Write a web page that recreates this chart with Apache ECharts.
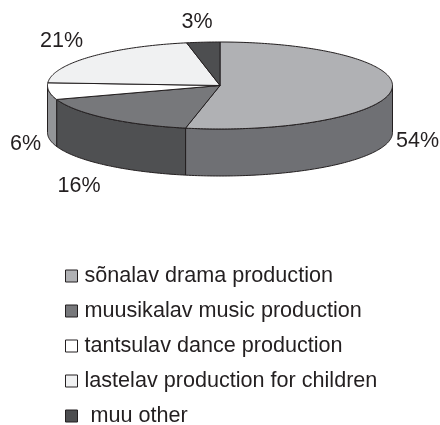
<!DOCTYPE html>
<html>
<head>
<meta charset="utf-8">
<style>
  html, body { margin: 0; background: #fff; }
  #chart { width: 440px; height: 425px; }
</style>
<script src="https://cdn.jsdelivr.net/npm/echarts@6/dist/echarts.min.js"></script>
</head>
<body>
<div id="chart"></div>
<script>
// data
const categories = [
  'sõnalav drama production',
  'muusikalav music production',
  'tantsulav dance production',
  'lastelav production for children',
  ' muu other',
]
// slice sizes as drawn (the 3D tilt of the original pushes the first boundary a bit off the printed 54)
const sliceShares = [53.2, 16.6, 6.2, 20.9, 3.1]
const shareLabels = ['54%', '16%', '6%', '21%', '3%']

// layout + colours
const topColors = ['#b0b1b4', '#77787b', '#ffffff', '#f0f1f2', '#4d4e50']
const wallColors = ['#6f7074', '#4f5052', '#939598', '#939598', '#4d4e50']
const labelPos = [[417.5, 141], [79, 186], [25.5, 144], [61.5, 41.5], [197, 22]]
const pie = { cx: 220, cy: 85.5, rx: 172.5, ry: 43.5, depth: 47 }
const inkColor = '#231f20'

const total = sliceShares.reduce((a, b) => a + b, 0)

// t = degrees clockwise from the top of the ellipse
const rimPoint = (t, dy = 0) => {
  const r = (t * Math.PI) / 180
  return [pie.cx + pie.rx * Math.sin(r), pie.cy - pie.ry * Math.cos(r) + dy]
}
const arcPoints = (from, to, dy = 0) => {
  const pts = []
  const steps = Math.max(2, Math.ceil(Math.abs(to - from)))
  for (let i = 0; i <= steps; i++) pts.push(rimPoint(from + ((to - from) * i) / steps, dy))
  return pts
}
const lineStyle = (fill) => ({ fill, stroke: inkColor, lineWidth: 1, lineJoin: 'round' })

const makeRenderItem = (index, start, end) => () => {
  const children = []
  // only the front half of the rim (90..270) has a visible wall
  const wallFrom = Math.max(start, 90)
  const wallTo = Math.min(end, 270)
  if (wallTo > wallFrom) {
    children.push({
      type: 'polygon',
      shape: { points: arcPoints(wallFrom, wallTo).concat(arcPoints(wallTo, wallFrom, pie.depth)) },
      style: lineStyle(wallColors[index]),
    })
  }
  children.push({
    type: 'polygon',
    shape: { points: [[pie.cx, pie.cy]].concat(arcPoints(start, end)) },
    style: lineStyle(topColors[index]),
  })
  children.push({
    type: 'text',
    z2: 10,
    style: {
      x: labelPos[index][0],
      y: labelPos[index][1],
      text: shareLabels[index],
      fill: inkColor,
      font: '21.5px "Liberation Sans", Arial, sans-serif',
      align: 'center',
      verticalAlign: 'middle',
    },
  })
  return { type: 'group', children }
}

let acc = 0
const series = categories.map((name, i) => {
  const start = (acc / total) * 360
  acc += sliceShares[i]
  const end = (acc / total) * 360
  return {
    name,
    type: 'custom',
    coordinateSystem: 'none',
    silent: true,
    animation: false,
    itemStyle: { color: topColors[i] },
    data: [[sliceShares[i]]],
    renderItem: makeRenderItem(i, start, end),
  }
})

const chart = echarts.init(document.getElementById('chart'), null, { renderer: 'canvas' })
chart.setOption({
  backgroundColor: '#fff',
  animation: false,
  legend: {
    orient: 'vertical',
    left: 65,
    top: 265,
    height: 175,
    padding: 0,
    selectedMode: false,
    icon: 'rect',
    itemWidth: 12,
    itemHeight: 12,
    itemGap: 13,
    textStyle: {
      color: inkColor,
      fontFamily: '"Liberation Sans", Arial, sans-serif',
      fontSize: 21.6,
      height: 20,
      lineHeight: 20,
      padding: [0, 0, 0, 2],
    },
    data: categories.map((name, i) => ({
      name,
      itemStyle: { color: topColors[i], borderColor: inkColor, borderWidth: 1 },
    })),
  },
  series,
})
</script>
</body>
</html>
